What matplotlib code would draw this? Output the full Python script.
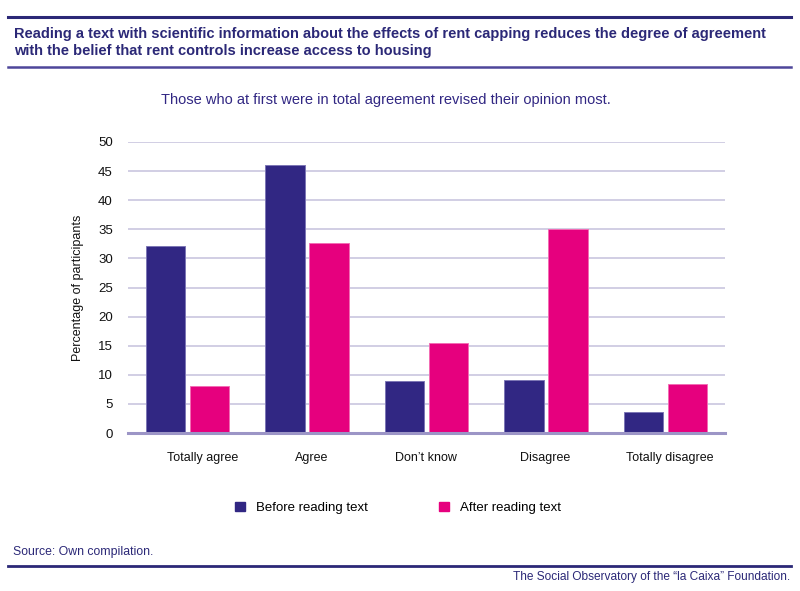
import matplotlib
matplotlib.use("Agg")
import matplotlib.pyplot as plt
import matplotlib.transforms as mtransforms
import numpy as np
from matplotlib.lines import Line2D
from matplotlib.patches import Patch

categories = ["Totally agree", "Agree", "Don\u2019t know", "Disagree", "Totally disagree"]
before = [32.2, 46.1, 8.9, 9.1, 3.6]
after = [8.0, 32.7, 15.4, 35.0, 8.5]
series_names = ["Before reading text", "After reading text"]
yticks = [0, 5, 10, 15, 20, 25, 30, 35, 40, 45, 50]

title = ("Reading a text with scientific information about the effects of rent capping reduces the degree of agreement\n"
         "with the belief that rent controls increase access to housing")
subtitle = "Those who at first were in total agreement revised their opinion most."
ylabel = "Percentage of participants"
source = "Source: Own compilation."
footer = "The Social Observatory of the \u201cla Caixa\u201d Foundation."

NAVY = "#312783"
PINK = "#E6007E"
TXT = "#2b2877"
GRID = "#cac6df"

plt.rcParams['font.family'] = ['Liberation Sans', 'DejaVu Sans']

fig = plt.figure(figsize=(8, 5.91), dpi=100)
W, H = 800, 591

def fy(py):
    return 1 - py / H

ax = fig.add_axes([128 / W, fy(433), (725 - 128) / W, (433 - 142) / H])
x = np.arange(len(categories))
bw = 0.33
off = 0.185
ax.bar(x - off, before, bw, color=NAVY, edgecolor="#7d77b5", linewidth=0.7, zorder=3)
ax.bar(x + off, after, bw, color=PINK, edgecolor="#f36db4", linewidth=0.7, zorder=3)
ax.set_xlim(-0.5, len(categories) - 0.5)
ax.set_ylim(0, 50)
ax.set_yticks(yticks)
ax.set_yticklabels([str(v) for v in yticks])
ax.set_xticks(x)
ax.set_xticklabels(categories)
ax.tick_params(axis='y', length=0, pad=11, labelsize=9.5, labelcolor="#111111")
ax.tick_params(axis='x', length=0, pad=13.5, labelsize=9, labelcolor="#111111")
# small horizontal nudges of category labels as in the original layout (pixels)
label_nudge_px = [15, 5, -1, -1, 4.5]
for lbl, dx in zip(ax.get_xticklabels(), label_nudge_px):
    lbl.set_transform(lbl.get_transform() + mtransforms.ScaledTranslation(dx / 100, 0, fig.dpi_scale_trans))
for s in ["top", "right", "left"]:
    ax.spines[s].set_visible(False)
ax.spines["bottom"].set_color("#9c95c6")
ax.spines["bottom"].set_linewidth(2.2)
ax.spines["bottom"].set_zorder(4)
ax.yaxis.grid(True, color=GRID, linewidth=1.2, zorder=0)
ax.set_axisbelow(True)
ax.set_ylabel(ylabel, fontsize=9, color="#111111", labelpad=10)

# header
fig.add_artist(Line2D([8 / W, 791 / W], [fy(16.5), fy(16.5)], color=TXT, linewidth=2.2))
fig.text(14 / W, fy(42.5), title, fontsize=10.5, fontweight="bold", color=TXT,
         ha="left", va="center", linespacing=1.3)
fig.add_artist(Line2D([8 / W, 791 / W], [fy(66.5), fy(66.5)], color="#4e479a", linewidth=1.8))
fig.text(386 / W, fy(100), subtitle, fontsize=10.5, color=NAVY, ha="center", va="center")

# legend
handles = [Patch(facecolor=NAVY, edgecolor=NAVY), Patch(facecolor=PINK, edgecolor=PINK)]
fig.legend(handles, series_names, loc="center", bbox_to_anchor=(398 / W, fy(508)), ncol=2,
           frameon=False, fontsize=9.5, handlelength=0.75, handleheight=0.75,
           handletextpad=0.8, columnspacing=5.4)

# footer
fig.text(13 / W, fy(552), source, fontsize=8.8, color=TXT, ha="left", va="center")
fig.add_artist(Line2D([8 / W, 791 / W], [fy(566), fy(566)], color=TXT, linewidth=2.0))
fig.text(790 / W, fy(577), footer, fontsize=8.6, color=TXT, ha="right", va="center")

fig.savefig("out.png", dpi=100)
